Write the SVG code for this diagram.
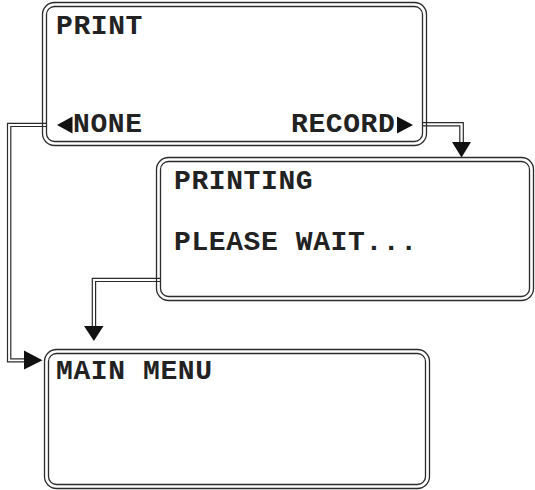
<svg xmlns="http://www.w3.org/2000/svg" width="535" height="490" viewBox="0 0 535 490">
  <style>
    .frame { fill: none; stroke: #2b2b2b; stroke-width: 1.3; }
    .wire { fill: none; stroke: #2b2b2b; stroke-width: 1.2; }
    .head { fill: #111; }
    .label { font-family: "Liberation Mono", "Courier New", monospace; font-weight: bold; font-size: 28px; letter-spacing: 0.6px; fill: #222; }
  </style>
  <rect width="535" height="490" fill="#fff"/>

  <!-- connectors: double-ruled wires with solid heads -->
  <g id="connectors">
    <!-- NONE -> MAIN MENU -->
    <polyline class="wire" points="46,123.3 7.5,123.3 7.5,361.8 25,361.8"/>
    <polyline class="wire" points="46,126.5 10.8,126.5 10.8,358.8 25,358.8"/>
    <polygon class="head" points="24,350.5 42.5,360.3 24,369.5"/>
    <!-- RECORD -> PRINTING -->
    <polyline class="wire" points="422,122.7 463.3,122.7 463.3,143"/>
    <polyline class="wire" points="422,125.9 459.8,125.9 459.8,143"/>
    <polygon class="head" points="452,142 471,142 461.5,157.5"/>
    <!-- PRINTING -> MAIN MENU -->
    <polyline class="wire" points="160,278.3 92.3,278.3 92.3,327"/>
    <polyline class="wire" points="160,281.5 95.6,281.5 95.6,327"/>
    <polygon class="head" points="84,326 103.5,326 93.9,341"/>
  </g>

  <g id="print">
    <rect class="frame" x="42.5" y="2.5" width="384" height="143" rx="12"/>
    <rect class="frame" x="46.5" y="6.5" width="376" height="135" rx="8"/>
    <text class="label" x="56" y="34">PRINT</text>
    <polygon class="head" points="57,125 72.5,116.5 72.5,133.5"/>
    <text class="label" x="73" y="131.5">NONE</text>
    <text class="label" x="291" y="131.5">RECORD</text>
    <polygon class="head" points="397,116.5 413,125 397,133.5"/>
  </g>

  <g id="printing">
    <rect class="frame" x="156.5" y="157.5" width="377" height="143" rx="12"/>
    <rect class="frame" x="160.5" y="161.5" width="369" height="135" rx="8"/>
    <text class="label" x="174" y="189">PRINTING</text>
    <text class="label" x="174" y="250">PLEASE WAIT...</text>
  </g>

  <g id="main-menu">
    <rect class="frame" x="44.5" y="349.5" width="385" height="139" rx="12"/>
    <rect class="frame" x="48.5" y="353.5" width="377" height="131" rx="8"/>
    <text class="label" x="56" y="378.5">MAIN MENU</text>
  </g>
</svg>
